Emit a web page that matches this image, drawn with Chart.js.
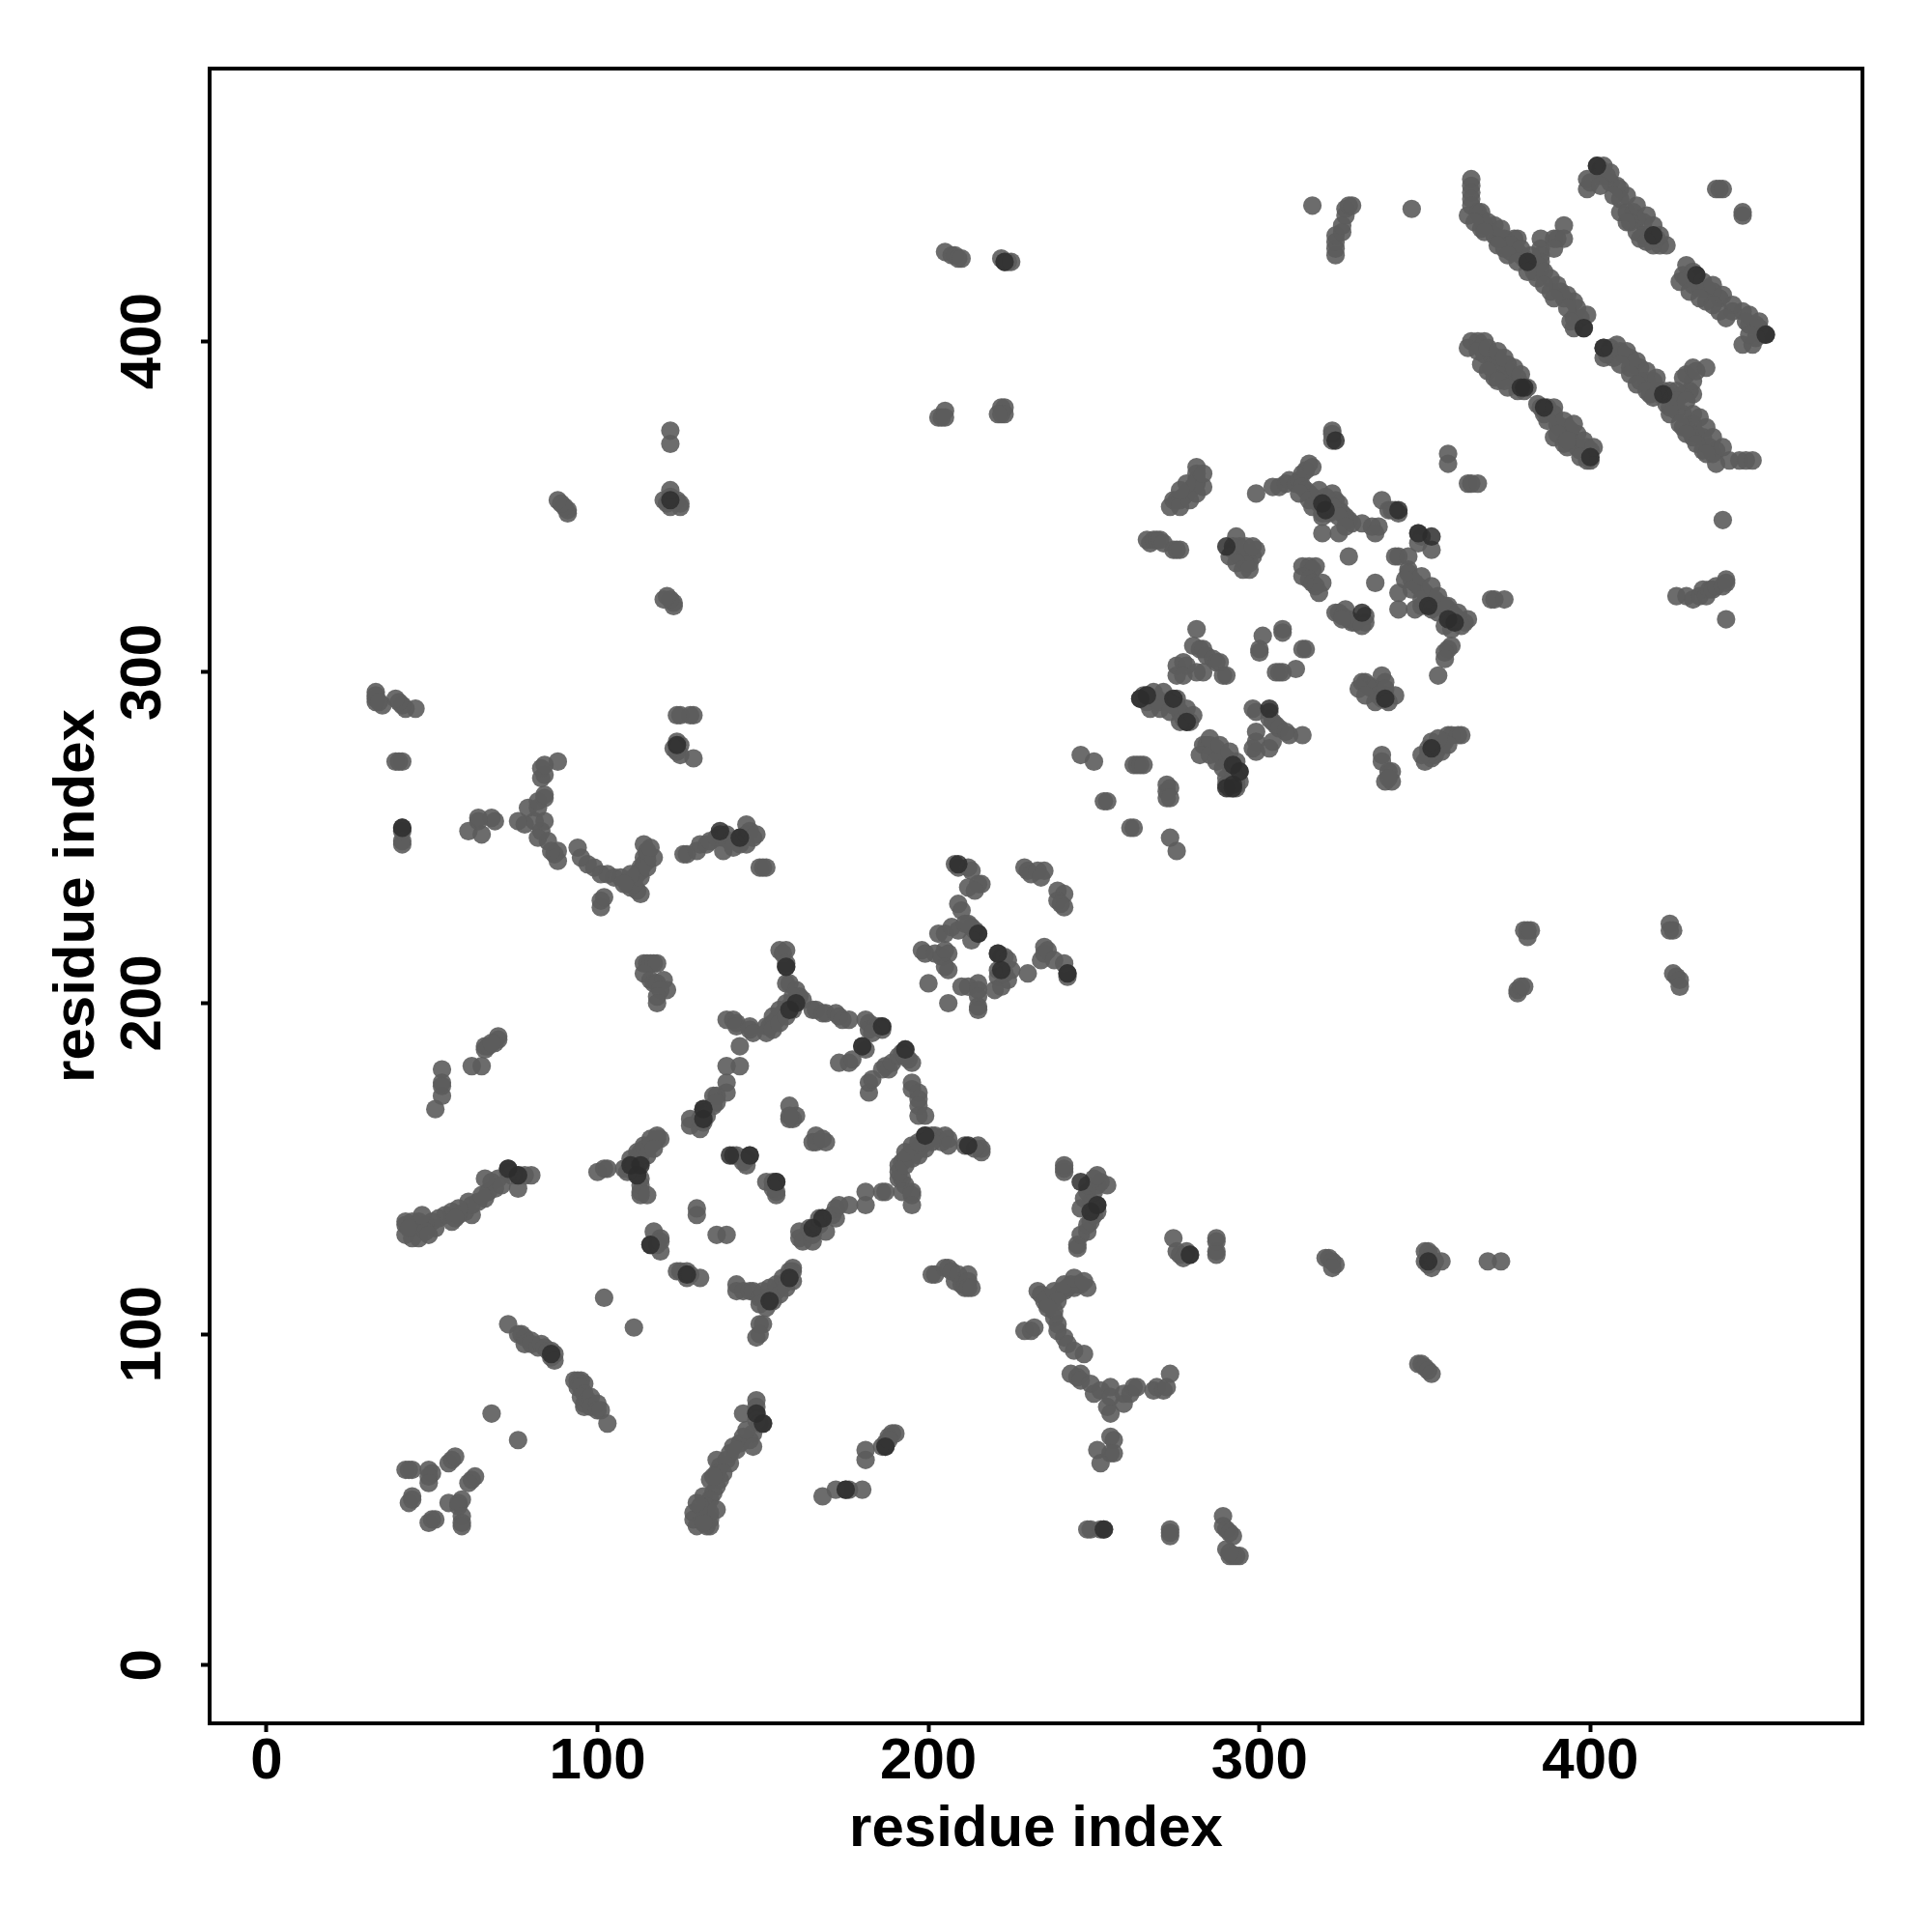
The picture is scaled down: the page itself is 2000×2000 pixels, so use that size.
<!DOCTYPE html>
<html>
<head>
<meta charset="utf-8">
<title>residue contact map</title>
<script src="https://cdn.jsdelivr.net/npm/chart.js@4"></script>
<style>
  html, body { margin: 0; padding: 0; background: #fff; }
  canvas { display: block; }
</style>
</head>
<body>
<canvas id="contactMap" width="2000" height="2000"></canvas>
<script>
/* =========================================
   AXIS LABELS
========================================= */
const xAxisLabel = "residue index";
const yAxisLabel = "residue index";
const xTickValues = [0, 100, 200, 300, 400];
const yTickValues = [0, 100, 200, 300, 400];

/* =========================================
   CONTACTS [x residue, y residue]
   one list per patch
========================================= */
const nearStartPatch = [[42,59],[43,59],[44,59],[49,59],[50,58],[49,57],[49,55],[55,61],[56,62],[57,63],[44,51],[43,49],[44,50],[63,57],[62,56],[61,55],[55,49],[58,49],[59,50],[58,48],[49,43],[50,44],[51,44],[59,45],[59,43],[59,42]];

const hairpin70to103 = [[73,103],[76,100],[77,100],[78,99],[78,97],[80,98],[80,97],[82,96],[83,97],[84,96],[85,95],[86,95],[86,94],[86,93],[87,94],[87,92],[93,86],[94,86],[95,86],[96,85],[94,84],[95,84],[96,82],[95,81],[96,79],[96,78],[97,80],[98,81],[98,78],[100,79],[100,77],[101,77],[103,73],[68,76],[76,68]];

const bandALower = [[148,80],[148,78],[148,76],[144,76],[148,74],[149,73],[150,73],[147,70],[146,68],[144,69],[143,67],[141,66],[140,64],[140,61],[136,62],[137,60],[136,58],[134,56],[137,56],[136,54],[135,52],[132,51],[134,50],[133,48],[134,46],[129,46],[129,44],[130,42],[133,42],[134,42],[134,44],[132,43],[139,62],[142,65],[145,71],[147,66],[138,58],[135,57],[131,48],[130,49],[136,47]];
const bandAUpper = [[80,148],[78,148],[76,148],[76,144],[74,148],[73,149],[73,150],[70,147],[68,146],[69,144],[67,143],[66,141],[64,140],[61,140],[62,136],[60,137],[58,136],[56,134],[56,137],[54,136],[52,135],[51,132],[50,134],[48,133],[46,134],[46,129],[44,129],[42,130],[42,133],[42,134],[44,134],[43,132],[62,139],[65,142],[71,145],[66,147],[58,138],[57,135],[48,131],[49,130],[47,136]];

const bandBLower = [[168,51],[172,53],[175,53],[176,53],[180,53],[181,62],[181,65],[186,66],[187,66],[187,67],[188,69],[189,70],[190,70],[188,68]];
const bandBUpper = [[51,168],[53,172],[53,175],[53,176],[53,180],[62,181],[65,181],[66,186],[66,187],[67,187],[69,188],[70,189],[70,190],[68,188]];

const patchCLower = [[248,41],[249,41],[252,41],[253,41],[273,41],[273,39],[273,40],[289,45],[289,42],[290,41],[291,40],[292,39],[290,35],[291,33],[292,33],[293,33],[294,33],[291,34]];
const patchCUpper = [[41,248],[41,249],[41,252],[41,253],[41,273],[39,273],[40,273],[45,289],[42,289],[41,290],[40,291],[39,292],[35,290],[33,291],[33,292],[33,293],[33,294],[34,291]];

const curveDLower = [[229,101],[231,101],[232,102],[233,113],[234,112],[235,110],[236,109],[237,110],[238,111],[239,112],[240,113],[241,113],[242,114],[243,115],[244,114],[245,115],[246,115],[248,114],[238,107],[238,105],[239,103],[239,101],[241,99],[242,97],[244,95],[247,94],[243,88],[245,87],[246,88],[246,86],[249,85],[250,82],[252,83],[255,84],[255,81],[254,78],[255,76],[259,79],[259,82],[261,82],[262,84],[263,84],[268,83],[269,84],[271,83],[272,84],[273,88],[251,65],[252,61],[255,69],[256,68],[255,64],[256,64],[236,111],[238,113],[241,115],[244,117],[247,116],[239,110],[236,108]];
const curveDUpper = [[101,229],[101,231],[102,232],[113,233],[112,234],[110,235],[109,236],[110,237],[111,238],[112,239],[113,240],[113,241],[114,242],[115,243],[114,244],[115,245],[115,246],[114,248],[107,238],[105,238],[103,239],[101,239],[99,241],[97,242],[95,244],[94,247],[88,243],[87,245],[88,246],[86,246],[85,249],[82,250],[83,252],[84,255],[81,255],[78,254],[76,255],[79,259],[82,259],[82,261],[84,262],[84,263],[83,268],[84,269],[83,271],[84,272],[88,273],[65,251],[61,252],[69,255],[68,256],[64,255],[64,256],[111,236],[113,238],[115,241],[117,244],[116,247],[110,239],[108,236]];

const curveEUpper = [[126,245],[127,245],[130,246],[131,248],[133,248],[134,249],[136,250],[137,251],[138,250],[139,251],[140,249],[138,246],[141,247],[143,248],[143,250],[145,248],[145,251],[145,254],[146,252],[147,250],[148,251],[149,241],[150,241],[151,241]];
const curveELower = [[245,126],[245,127],[246,130],[248,131],[248,133],[249,134],[250,136],[251,137],[250,138],[251,139],[249,140],[246,138],[247,141],[248,143],[250,143],[248,145],[251,145],[254,145],[252,146],[250,147],[251,148],[241,149],[241,150],[241,151]];

const patchFLower = [[348,91],[349,91],[350,90],[351,89],[352,88]];
const patchFUpper = [[91,348],[91,349],[90,350],[89,351],[88,352]];

const patchGLower = [[320,123],[321,123],[322,122],[323,121],[322,120],[350,125],[351,125],[352,124],[350,122],[351,121],[352,120],[353,122],[355,122],[369,122],[373,122],[274,129],[275,125],[276,124],[277,123],[278,125],[279,124],[287,129],[287,125],[287,128],[287,124]];
const patchGUpper = [[123,320],[123,321],[122,322],[121,323],[120,322],[125,350],[125,351],[124,352],[122,350],[121,351],[120,352],[122,353],[122,355],[122,369],[122,373],[129,274],[125,275],[124,276],[123,277],[125,278],[124,279],[129,287],[125,287],[128,287],[124,287]];

const patchHLower = [[201,118],[202,118],[205,120],[206,120],[207,119],[208,116],[209,118],[210,115],[211,114],[212,118],[212,116],[212,114],[213,114]];
const patchHUpper = [[114,212],[115,212],[116,212],[117,212],[118,212],[114,209],[116,207],[117,206],[118,206],[120,207],[121,204],[119,204],[118,202],[118,200]];

const blockTop = [[155,216],[157,216],[156,215],[157,212],[157,211],[157,206],[158,206],[160,204],[161,202],[160,201],[159,200],[158,199],[157,198],[156,197],[155,196],[154,195],[153,194],[152,193],[151,193],[139,195],[141,195],[142,194],[142,193],[146,193],[146,192],[147,191],[143,187],[143,181],[139,181],[139,176],[139,173],[136,172],[135,172],[135,169],[136,170],[132,168],[132,167],[131,165],[133,166],[128,165],[128,163],[131,162],[132,164],[153,196],[155,198],[157,200],[159,202],[162,201],[151,191],[153,192],[155,194],[157,196],[159,198]];
const blockLeft = [[119,159],[118,159],[117,158],[116,157],[115,156],[114,156],[113,155],[113,154],[112,153],[111,152],[110,151],[110,150],[111,149],[112,149],[113,147],[113,145],[113,143],[113,142],[115,142],[100,149],[102,150],[103,150],[110,153],[112,155],[114,157],[116,159],[118,160],[108,150],[109,149],[111,151],[113,152],[115,154],[117,156]];
const blockMiddle = [[141,154],[142,154],[146,154],[145,153],[145,151],[144,152],[158,169],[158,165],[159,165],[160,166],[158,166],[166,160],[165,158],[166,158],[169,158],[168,159],[151,146],[153,146],[154,146],[154,143],[154,142],[153,144],[130,138],[130,136],[136,130],[139,130]];
const blockBottom = [[117,131],[119,129],[116,127],[118,127],[119,125],[119,128],[124,119],[125,119],[127,119],[127,117],[128,118],[131,117],[142,115],[142,113],[144,113],[146,113],[147,113],[149,111],[150,111],[151,110],[152,111],[153,112],[154,113],[155,114],[156,115],[157,116],[158,117],[159,119],[159,120],[149,103],[150,103],[148,99],[149,100],[102,111],[111,102],[150,113],[152,114],[154,115],[156,117],[158,119],[149,109],[151,108],[153,110],[155,112],[157,114],[159,116]];
const blockLowerSide = [[161,131],[161,129],[162,128],[165,128],[164,132],[165,130],[167,133],[169,131],[168,135],[167,135],[171,136],[172,135],[172,138],[173,139],[176,139],[181,139],[181,143],[186,143],[187,143],[191,147],[192,147],[193,145],[192,143],[195,143],[195,142],[195,139],[191,151],[192,152],[193,153],[194,154],[195,155],[196,155],[197,156],[198,157],[199,158],[200,159],[201,160],[202,160],[204,158],[205,160],[206,159],[206,157],[211,157],[215,157],[216,156],[216,155],[214,156],[191,149],[193,151],[195,153],[197,154],[199,156],[201,158],[193,155],[195,157],[197,158],[199,160]];
const blockRightSide = [[195,176],[195,174],[197,173],[197,171],[197,169],[197,166],[199,166],[182,173],[182,176],[183,177],[186,180],[187,181],[188,180],[189,182],[191,184],[192,185],[193,186],[194,183],[195,182],[193,184],[173,182],[176,182],[177,183],[180,187],[181,186],[181,195],[182,194],[182,192],[184,193],[185,193],[186,193],[186,192],[183,191],[165,198],[166,198],[168,197],[169,197],[172,197],[173,196],[174,195],[176,195]];

const patch200to240 = [[198,216],[199,215],[202,215],[204,214],[205,216],[206,215],[203,221],[205,221],[207,223],[209,222],[212,224],[213,223],[214,222],[215,221],[213,219],[205,211],[206,210],[200,206],[206,200],[210,205],[212,205],[215,206],[215,204],[215,202],[215,199],[215,198],[221,215],[222,214],[223,214],[224,213],[221,210],[221,208],[223,209],[224,207],[222,205],[220,204],[225,210],[230,209],[234,213],[235,215],[235,217],[236,216],[238,213],[241,212],[242,209],[242,208],[208,242],[209,241],[212,241],[213,240],[209,230],[210,228],[211,224],[212,235],[215,236],[216,236],[214,234],[229,241],[230,240],[231,239],[233,240],[235,240],[234,238],[239,234],[241,233],[239,231],[240,230],[241,229]];

const blockIStrands = [[274,352],[275,352],[276,352],[277,353],[278,354],[279,355],[280,356],[281,357],[281,358],[281,360],[281,362],[266,340],[267,339],[268,340],[269,340],[270,340],[271,339],[274,337],[275,337],[276,337],[293,341],[292,338],[292,337],[293,336],[294,335],[295,334],[296,333],[297,333],[298,335],[296,336],[299,337],[294,338],[273,350],[276,350],[279,352],[281,354],[283,356],[283,360],[278,357],[276,355],[291,335],[293,333],[295,331],[296,338],[298,338],[297,331]];
const blockITop = [[299,354],[304,356],[306,356],[308,357],[309,358],[311,357],[312,358],[313,360],[314,361],[315,363],[316,362],[313,356],[314,355],[315,354],[316,353],[317,352],[318,351],[319,350],[320,349],[321,348],[319,347],[322,354],[323,352],[324,351],[324,349],[325,348],[326,347],[327,346],[328,345],[319,342],[324,342],[331,345],[334,344],[336,344],[335,342],[337,352],[339,349],[340,349],[341,349],[342,348],[357,366],[357,363],[363,357],[364,357],[366,357],[322,373],[322,372],[322,370],[312,354],[315,352],[316,350],[319,348],[318,355],[320,353],[322,350],[324,347],[326,344]];
const blockIRight = [[348,342],[349,341],[348,339],[352,337],[341,335],[342,335],[345,335],[345,331],[345,330],[346,328],[347,327],[348,326],[349,325],[350,324],[351,323],[352,322],[353,322],[354,321],[355,320],[356,320],[357,319],[358,318],[357,317],[359,317],[360,316],[362,315],[363,316],[361,314],[342,324],[342,319],[347,319],[349,320],[356,314],[358,313],[358,308],[357,307],[356,306],[356,304],[354,299],[370,322],[371,322],[374,322],[344,328],[346,325],[349,322],[352,319],[354,318],[349,329],[352,326],[354,323],[357,320],[360,318]];
const blockICentre = [[327,335],[335,327],[313,332],[315,332],[317,332],[316,331],[313,329],[315,328],[316,327],[317,326],[319,327],[318,324],[323,318],[324,318],[325,317],[326,319],[327,316],[328,315],[329,315],[332,317],[332,315],[331,314],[325,316],[281,313],[280,308],[282,307],[283,307],[284,305],[286,304],[287,303],[288,303],[275,302],[277,303],[278,302],[275,299],[277,299],[281,300],[283,300],[289,299],[290,299],[301,311],[300,307],[300,306],[307,313],[307,312],[313,307],[314,307],[311,301],[306,300],[305,300],[307,300]];
const blockILower = [[264,292],[265,293],[266,293],[266,291],[268,292],[269,292],[270,291],[272,291],[273,291],[274,290],[275,290],[276,288],[277,287],[277,286],[278,285],[279,285],[283,278],[284,278],[285,278],[286,277],[287,277],[288,275],[289,275],[289,274],[290,274],[291,273],[291,272],[292,271],[292,270],[293,268],[293,266],[293,265],[292,265],[291,265],[298,289],[299,288],[303,288],[303,286],[304,285],[305,284],[306,283],[308,282],[309,281],[313,281],[299,282],[299,279],[298,277],[299,276],[303,277],[304,279],[331,297],[332,297],[333,296],[334,295],[335,295],[336,293],[337,292],[337,299],[338,297],[341,293],[338,293],[351,277],[351,275],[352,274],[352,276],[353,277],[354,277],[355,278],[356,279],[357,281],[358,281],[360,281],[361,281],[337,275],[337,273],[339,270],[340,270],[338,267],[340,267],[339,268],[246,275],[250,273],[262,272],[263,272],[264,272],[265,272],[272,266],[272,264],[273,265],[272,262],[273,262],[253,261],[254,261],[261,253],[262,253],[273,250],[275,246],[267,289],[270,289],[273,288],[276,285],[268,294],[271,294],[275,292],[278,289],[280,287],[282,275],[285,275],[287,273],[289,271],[290,268],[290,266],[285,280],[288,278],[291,276],[293,273],[294,270],[294,267],[330,295],[332,293],[335,291],[338,295],[339,291],[350,273],[353,275],[355,276],[357,278],[349,275],[354,280],[352,279]];

const strandsInner = [[364,449],[364,447],[364,445],[364,443],[364,441],[363,438],[366,439],[367,437],[367,434],[368,435],[371,435],[371,432],[372,431],[373,431],[374,431],[375,430],[377,431],[378,431],[374,428],[376,427],[378,427],[379,426],[380,425],[381,424],[382,423],[383,421],[385,431],[385,428],[385,426],[385,424],[385,422],[389,431],[390,431],[392,435],[392,431],[389,428],[384,419],[388,419],[388,415],[391,415],[392,413],[395,412],[399,408],[395,407],[395,404],[398,404],[367,439],[369,436],[373,434],[376,429],[379,428],[382,426],[384,423],[386,421],[390,417],[393,414],[396,410],[397,407],[365,436],[368,433],[372,429],[375,426],[378,424],[381,421],[386,417],[389,413],[393,410],[394,406]];
const strandsTop = [[399,449],[399,446],[402,453],[403,452],[403,450],[405,450],[406,448],[408,447],[409,446],[409,443],[409,439],[411,439],[413,439],[412,436],[414,437],[416,436],[414,433],[416,432],[418,432],[419,432],[420,431],[419,429],[421,429],[423,429],[429,423],[428,420],[429,419],[432,420],[431,417],[433,416],[435,416],[437,415],[439,413],[435,412],[439,409],[443,409],[446,409],[447,406],[448,405],[450,405],[451,404],[453,402],[452,402],[450,401],[446,399],[449,399],[438,446],[439,446],[440,446],[446,439],[446,438],[404,453],[406,451],[411,444],[414,441],[417,438],[419,435],[421,432],[400,448],[403,447],[407,444],[411,436],[415,431],[417,430],[431,421],[434,418],[437,417],[440,414],[443,411],[448,408],[451,406],[427,418],[430,415],[433,413],[437,411],[441,407],[448,402]];
const strandsLeft = [[364,400],[366,400],[368,400],[367,398],[368,396],[370,396],[372,395],[367,393],[370,392],[372,392],[375,393],[375,391],[371,389],[374,388],[376,389],[378,389],[378,385],[380,385],[379,387],[381,386],[385,380],[386,379],[386,378],[389,378],[390,375],[391,374],[393,374],[394,373],[396,372],[389,371],[392,369],[393,368],[394,370],[396,368],[397,367],[398,367],[399,368],[400,367],[399,365],[400,364],[399,364],[363,398],[366,397],[369,398],[372,397],[374,395],[377,392],[379,390],[369,391],[372,388],[375,386],[384,381],[387,380],[389,380],[392,376],[395,375],[398,370],[401,368],[387,376],[390,372],[393,370],[397,365]];
const strandsRight = [[404,398],[408,399],[404,395],[405,396],[407,395],[410,396],[412,395],[412,392],[413,393],[415,392],[415,388],[417,388],[419,388],[418,384],[420,385],[422,385],[421,384],[423,384],[424,385],[425,383],[426,385],[428,384],[430,385],[431,384],[428,389],[431,388],[429,390],[431,392],[432,391],[435,392],[423,381],[424,380],[426,379],[428,378],[431,378],[428,374],[431,375],[430,373],[431,371],[434,371],[432,372],[434,367],[436,368],[438,367],[437,366],[438,363],[442,364],[445,364],[447,364],[449,364],[406,398],[409,397],[411,397],[414,394],[417,391],[420,389],[409,393],[412,390],[414,387],[417,385],[419,383],[426,382],[429,382],[433,377],[435,374],[437,371],[440,368],[424,378],[427,375],[429,372],[432,369],[435,366]];

const farPatchLower = [[426,323],[429,323],[431,322],[433,323],[434,325],[435,323],[436,325],[437,325],[438,326],[440,326],[441,328],[441,327],[441,316],[440,346],[378,204],[378,203],[379,205],[380,205],[380,222],[381,220],[381,222],[382,222],[424,224],[424,222],[425,222],[425,209],[426,208],[427,207],[427,205]];
const farPatchUpper = [[316,441],[323,426],[323,428],[323,430],[323,432],[325,433],[325,435],[326,438],[326,440],[327,441],[328,441],[346,440],[205,427],[207,426],[208,426],[209,425],[210,425],[222,425],[223,424],[224,424],[225,424],[203,377],[204,377],[205,379],[205,377],[222,380],[223,380],[222,378],[223,378],[221,378]];

// the contacts that show up almost black in the picture
const darkContacts = [[398,404],[404,398],[432,420],[419,432],[453,402],[380,386],[386,380],[381,424],[422,384],[402,453],[338,292],[264,292],[266,293],[274,292],[278,285],[292,272],[292,266],[290,265],[290,338],[348,342],[359,315],[357,316],[342,349],[319,351],[320,349],[351,320],[303,289],[352,277],[157,211],[160,200],[158,198],[186,193],[180,187],[193,186],[132,168],[132,165],[199,160],[212,157],[221,215],[215,221],[222,210],[110,151],[113,151],[146,154],[140,154],[154,146],[165,132],[168,135],[127,118],[152,110],[158,117],[116,127],[73,150],[76,148],[86,94],[150,73],[148,76],[175,53],[187,66],[351,122],[279,124],[253,41],[223,424],[41,253],[124,278],[122,352],[249,137],[251,139],[246,146],[323,370],[242,209],[209,242],[137,252],[143,250],[112,148],[379,386],[400,365],[292,265],[294,270],[352,341],[331,318]];

const contactLists = [
  nearStartPatch, hairpin70to103, bandALower, bandAUpper, bandBLower, bandBUpper,
  patchCLower, patchCUpper, curveDLower, curveDUpper, curveEUpper, curveELower,
  patchFLower, patchFUpper, patchGLower, patchGUpper, patchHLower, patchHUpper,
  blockTop, blockLeft, blockMiddle, blockBottom, blockLowerSide, blockRightSide,
  patch200to240, blockIStrands, blockITop, blockIRight, blockICentre, blockILower,
  strandsInner, strandsTop, strandsLeft, strandsRight, farPatchLower, farPatchUpper
];

function toPoints(list) {
  return list.map(p => ({ x: p[0], y: p[1] }));
}

/* =========================================
   FRAME AROUND THE PLOT (R style box)
========================================= */
const boxPlugin = {
  id: "box",
  afterDatasetsDraw(chart) {
    const { ctx, chartArea: a } = chart;
    ctx.save();
    ctx.strokeStyle = "#000";
    ctx.lineWidth = 4;
    ctx.strokeRect(a.left, a.top, a.right - a.left, a.bottom - a.top);
    ctx.restore();
  }
};

const axisFont = { family: "'Liberation Sans'", size: 60, weight: "bold" };

new Chart(document.getElementById("contactMap"), {
  type: "scatter",
  data: {
    datasets: [
      // first dataset is painted last, so the dark ones sit on top
      {
        data: toPoints(darkContacts),
        backgroundColor: "rgba(45,45,45,0.85)",
        borderWidth: 0,
        pointRadius: 9.6,
        pointHoverRadius: 9.6
      },
      {
        data: toPoints(contactLists.flat()),
        backgroundColor: "rgba(92,92,92,0.9)",
        borderWidth: 0,
        pointRadius: 9.6,
        pointHoverRadius: 9.6
      }
    ]
  },
  plugins: [boxPlugin],
  options: {
    responsive: false,
    animation: false,
    devicePixelRatio: 1,
    layout: { padding: { top: 71, right: 72, left: 0, bottom: 0 } },
    plugins: { legend: { display: false }, tooltip: { enabled: false } },
    scales: {
      x: {
        type: "linear",
        min: -17.2,
        max: 482.2,
        afterFit(scale) { scale.height = 216; },
        afterBuildTicks(scale) { scale.ticks = xTickValues.map(v => ({ value: v })); },
        grid: { drawOnChartArea: false, tickLength: 9, tickWidth: 4, tickColor: "#000" },
        border: { display: false },
        ticks: { color: "#000", font: axisFont, padding: -5, maxRotation: 0, autoSkip: false },
        title: { display: true, text: xAxisLabel, color: "#000", font: axisFont, padding: { top: 0, bottom: 70 } }
      },
      y: {
        type: "linear",
        min: -17.6,
        max: 482.4,
        afterFit(scale) { scale.width = 217; },
        afterBuildTicks(scale) { scale.ticks = yTickValues.map(v => ({ value: v })); },
        grid: { drawOnChartArea: false, tickLength: 9, tickWidth: 4, tickColor: "#000" },
        border: { display: false },
        ticks: { color: "#000", font: axisFont, padding: 8, minRotation: 90, maxRotation: 90, crossAlign: "center", autoSkip: false },
        title: { display: true, text: yAxisLabel, color: "#000", font: axisFont, padding: { top: 44, bottom: 0 } }
      }
    }
  }
});
</script>
</body>
</html>
